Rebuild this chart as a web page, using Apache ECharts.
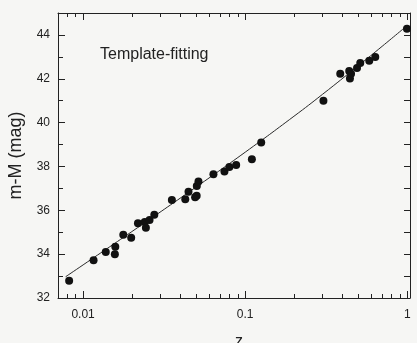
<!DOCTYPE html>
<html>
<head>
<meta charset="utf-8">
<style>
  html, body { margin: 0; padding: 0; background: #f6f6f4; }
  #chart { width: 417px; height: 343px; }
</style>
<script src="https://cdn.jsdelivr.net/npm/echarts@6/dist/echarts.min.js"></script>
</head>
<body>
<div id="chart"></div>
<script>
// Observed supernovae (redshift z, distance modulus m-M)
const pointZ = [0.0082, 0.0116, 0.0138, 0.0157, 0.0158, 0.0177, 0.0198, 0.0218, 0.0240, 0.0244,
                0.0257, 0.0275, 0.0353, 0.0427, 0.0447, 0.0491, 0.0502, 0.0503, 0.0515, 0.0637,
                0.0745, 0.0799, 0.0880, 0.110, 0.1256, 0.304, 0.386, 0.4385, 0.443, 0.450,
                0.490, 0.513, 0.583, 0.635, 0.996];
const pointM = [32.79, 33.72, 34.10, 34.00, 34.34, 34.88, 34.75, 35.41, 35.47, 35.20,
                35.56, 35.80, 36.47, 36.50, 36.85, 36.60, 36.66, 37.11, 37.31, 37.65,
                37.77, 37.97, 38.07, 38.33, 39.09, 41.00, 42.23, 42.35, 42.01, 42.23,
                42.49, 42.72, 42.82, 42.99, 44.28];
// Fitted curve
const lineZ = [0.0078, 0.01, 0.02, 0.05, 0.1, 0.2, 0.3, 0.5, 0.7, 1.0];
const lineM = [32.97, 33.51, 35.03, 37.07, 38.65, 40.29, 41.29, 42.60, 43.48, 44.43];
// Axis ticks
const xMajorTicks = [0.01, 0.1, 1];
const xMinorTicks = [0.008, 0.009, 0.02, 0.03, 0.04, 0.05, 0.06, 0.07, 0.08, 0.09,
                     0.2, 0.3, 0.4, 0.5, 0.6, 0.7, 0.8, 0.9];
const xTickLabels = ['0.01', '0.1', '1'];
const yMajorTicks = [32, 34, 36, 38, 40, 42, 44];
const yMinorTicks = [33, 35, 37, 39, 41, 43, 45];
const yRightTicks = [32, 33, 34, 35, 36, 37, 38, 39, 40, 41, 42, 43, 44];

const FONT = '"Liberation Sans", Arial, sans-serif';
const AX = '#222';

function xAxisDef(pos, ticks, len, showLine, labels) {
  return {
    type: 'log', logBase: 10, min: 0.007, max: 1.04, position: pos,
    axisLine: { show: showLine, onZero: false, lineStyle: { color: AX, width: 1 } },
    axisTick: { show: true, inside: true, length: len, customValues: ticks, lineStyle: { color: AX, width: 1 } },
    axisLabel: labels ? {
      show: true, customValues: xMajorTicks, margin: 11, color: '#222', fontSize: 12, fontFamily: FONT,
      formatter: function (v) { const i = xMajorTicks.findIndex(t => Math.abs(t - v) / t < 1e-6); return i >= 0 ? xTickLabels[i] : ''; }
    } : { show: false },
    splitLine: { show: false }, minorTick: { show: false }, minorSplitLine: { show: false }
  };
}
function yAxisDef(pos, ticks, len, showLine, labels) {
  return {
    type: 'value', min: 32, max: 45, position: pos,
    axisLine: { show: showLine, onZero: false, lineStyle: { color: AX, width: 1 } },
    axisTick: { show: true, inside: true, length: len, customValues: ticks, lineStyle: { color: AX, width: 1 } },
    axisLabel: labels ? { show: true, customValues: yMajorTicks, margin: 8, color: '#222', fontSize: 12, fontFamily: FONT } : { show: false },
    splitLine: { show: false },
    name: labels ? 'm-M (mag)' : '', nameLocation: 'middle', nameGap: 33, nameRotate: 90,
    nameTextStyle: { color: '#222', fontSize: 18, fontFamily: FONT }
  };
}

const chart = echarts.init(document.getElementById('chart'), null, { renderer: 'canvas' });
chart.setOption({
  backgroundColor: '#f6f6f4',
  animation: false,
  title: [
    {
      text: 'Template-fitting', left: 100, top: 47, padding: 0,
      textStyle: { fontSize: 16, fontWeight: 'normal', color: '#222', fontFamily: FONT }
    },
    {
      text: 'z', left: 235, top: 334, padding: 0,
      textStyle: { fontSize: 16, fontWeight: 'normal', color: '#222', fontFamily: FONT }
    }
  ],
  grid: { left: 58, right: 7, top: 13, bottom: 45, containLabel: false, outerBoundsMode: 'none' },
  xAxis: [
    xAxisDef('bottom', xMajorTicks, 7, true, true),
    xAxisDef('bottom', xMinorTicks, 4, false, false),
    xAxisDef('top', xMajorTicks, 7, true, false),
    xAxisDef('top', xMinorTicks, 4, false, false)
  ],
  yAxis: [
    yAxisDef('left', yMajorTicks, 7, true, true),
    yAxisDef('left', yMinorTicks, 5, false, false),
    yAxisDef('right', yRightTicks, 6, true, false)
  ],
  series: [
    {
      type: 'line', xAxisIndex: 0, yAxisIndex: 0, smooth: true, symbol: 'none',
      lineStyle: { color: '#2a2a2a', width: 1 }, z: 2,
      data: lineZ.map((z, i) => [z, lineM[i]])
    },
    {
      type: 'scatter', xAxisIndex: 0, yAxisIndex: 0, symbol: 'circle', symbolSize: 8,
      itemStyle: { color: '#111', opacity: 1 }, z: 3,
      data: pointZ.map((z, i) => [z, pointM[i]])
    }
  ]
});
</script>
</body>
</html>
